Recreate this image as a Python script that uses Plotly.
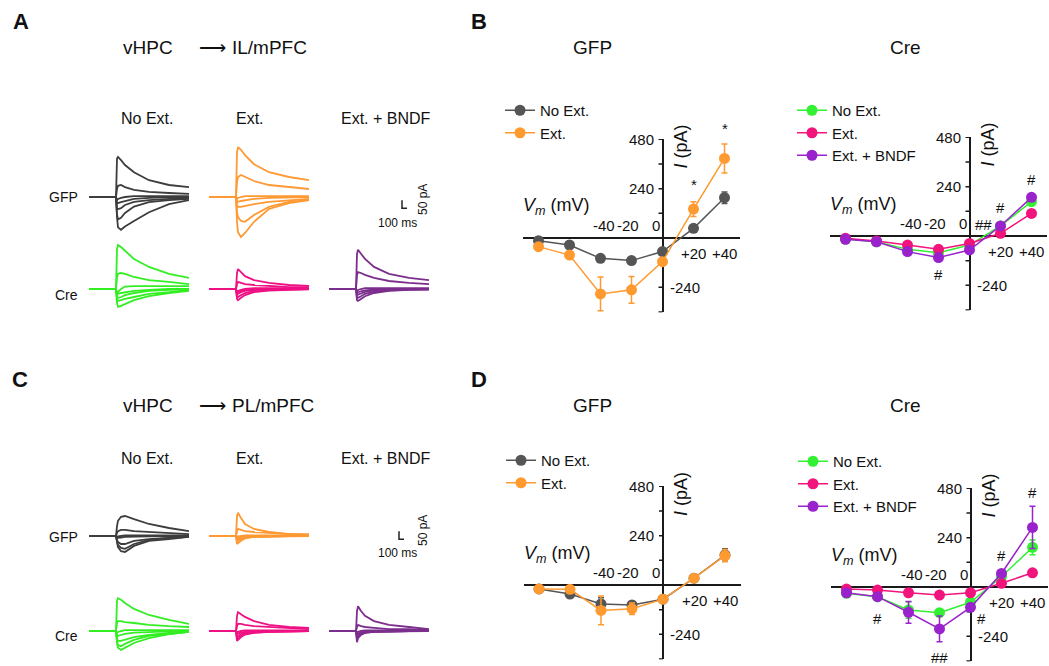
import plotly.graph_objects as go

W, H = 1049, 666
FONT = "Liberation Sans, Arial, sans-serif"

# ---------------- I-V data (pA) ----------------
V_STEPS = [-80, -60, -40, -20, 0, 20, 40]

IL_GFP_NOEXT = [-13, -34, -99, -110, -66, 47, 196]
IL_GFP_NOEXT_ERR = [8, 10, 12, 12, 10, 10, 28]
IL_GFP_EXT = [-42, -83, -272, -252, -115, 141, 387]
IL_GFP_EXT_ERR = [10, 12, 82, 65, 12, 36, 71]

IL_CRE_NOEXT = [-15, -28, -65, -81, -44, 49, 167]
IL_CRE_NOEXT_ERR = [6, 6, 8, 8, 8, 8, 12]
IL_CRE_EXT = [-11, -24, -44, -65, -36, 13, 110]
IL_CRE_EXT_ERR = [6, 6, 8, 8, 8, 8, 12]
IL_CRE_BNDF = [-16, -28, -76, -105, -68, 49, 188]
IL_CRE_BNDF_ERR = [6, 6, 10, 12, 10, 10, 15]

PL_GFP_NOEXT = [-19, -44, -92, -97, -69, 33, 146]
PL_GFP_NOEXT_ERR = [6, 8, 30, 12, 8, 8, 30]
PL_GFP_EXT = [-19, -21, -124, -116, -69, 33, 143]
PL_GFP_EXT_ERR = [6, 8, 70, 28, 8, 8, 30]

PL_CRE_NOEXT = [-31, -47, -112, -125, -74, 50, 193]
PL_CRE_NOEXT_ERR = [6, 8, 40, 15, 10, 10, 36]
PL_CRE_EXT = [-10, -15, -28, -39, -28, 18, 69]
PL_CRE_EXT_ERR = [6, 6, 6, 6, 6, 6, 8]
PL_CRE_BNDF = [-28, -47, -123, -204, -99, 66, 290]
PL_CRE_BNDF_ERR = [6, 8, 53, 63, 15, 15, 103]

Y_TICKS = [-360, -240, -120, 0, 120, 240, 360, 480]

# ---------------- example current traces (pA vs ms) ----------------
T_MS = [0, 540, 560, 580, 640, 720, 900, 1200, 1600, 2000]

IL_GFP_NOEXT_TR = [
    [0, 0, 240, 250, 230, 200, 155, 105, 75, 62],
    [0, 0, 50, 70, 75, 62, 45, 32, 25, 20],
    [0, 0, -20, -12, -6, 0, 6, 6, 6, 6],
    [0, 0, -38, -38, -32, -25, -12, -6, 0, 0],
    [0, 0, -75, -75, -70, -50, -30, -20, -12, -6],
    [0, 0, -110, -140, -130, -100, -60, -32, -20, -12],
    [0, 0, -125, -190, -205, -185, -150, -95, -45, -20],
]
IL_GFP_EXT_TR = [
    [0, 0, 280, 312, 295, 262, 205, 155, 125, 105],
    [0, 0, 95, 125, 138, 125, 100, 75, 62, 50],
    [0, 0, -12, -6, 0, 6, 6, 6, 6, 6],
    [0, 0, -30, -30, -25, -20, -12, -6, -3, 0],
    [0, 0, -50, -62, -62, -56, -44, -30, -20, -12],
    [0, 0, -95, -125, -150, -155, -112, -62, -30, -20],
    [0, 0, -155, -220, -250, -225, -155, -75, -38, -20],
]
IL_CRE_NOEXT_TR = [
    [0, 0, 250, 275, 262, 238, 188, 138, 95, 70],
    [0, 0, 75, 95, 100, 95, 75, 56, 44, 30],
    [0, 0, -40, -20, 0, 15, 18, 18, 18, 18],
    [0, 0, -25, -30, -25, -20, -12, -6, 0, 0],
    [0, 0, -50, -56, -50, -38, -25, -12, -6, 0],
    [0, 0, -62, -75, -70, -62, -50, -30, -20, -6],
    [0, 0, -88, -112, -105, -95, -70, -45, -25, -12],
]
IL_CRE_EXT_TR = [
    [0, 0, 100, 125, 105, 80, 56, 38, 25, 20],
    [0, 0, 30, 44, 38, 30, 25, 20, 12, 12],
    [0, 0, -20, -12, -6, 0, 6, 6, 6, 6],
    [0, 0, -25, -20, -12, -6, -3, 0, 0, 0],
    [0, 0, -38, -30, -20, -12, -6, -3, 0, 0],
    [0, 0, -50, -50, -38, -25, -12, -6, -3, 0],
    [0, 0, -62, -70, -55, -38, -20, -10, -5, -2],
]
IL_CRE_BNDF_TR = [
    [0, 0, 220, 245, 220, 188, 138, 95, 70, 56],
    [0, 0, 88, 105, 100, 88, 70, 50, 38, 30],
    [0, 0, -12, -6, 0, 6, 6, 6, 6, 6],
    [0, 0, -25, -20, -15, -8, -3, 0, 0, 0],
    [0, 0, -40, -35, -28, -18, -10, -5, -2, 0],
    [0, 0, -55, -55, -45, -30, -18, -8, -4, -2],
    [0, 0, -70, -75, -62, -45, -25, -12, -6, -3],
]
PL_GFP_NOEXT_TR = [
    [0, 0, 62, 95, 120, 125, 105, 75, 50, 30],
    [0, 0, 20, 30, 38, 38, 30, 25, 20, 12],
    [0, 0, -6, -3, 0, 3, 3, 3, 3, 3],
    [0, 0, -12, -12, -10, -6, -3, -2, 0, 0],
    [0, 0, -25, -38, -50, -50, -30, -20, -12, -6],
    [0, 0, -30, -56, -75, -80, -50, -25, -12, -6],
    [0, 0, -38, -70, -95, -100, -62, -30, -20, -6],
]
PL_GFP_EXT_TR = [
    [0, 0, 125, 145, 112, 75, 44, 25, 12, 12],
    [0, 0, 30, 44, 38, 30, 25, 20, 12, 6],
    [0, 0, -6, -3, 0, 3, 3, 3, 3, 3],
    [0, 0, -12, -10, -6, -3, 0, 0, 0, 0],
    [0, 0, -25, -20, -12, -6, -3, 0, 0, 0],
    [0, 0, -38, -30, -20, -10, -5, -2, 0, 0],
    [0, 0, -50, -44, -30, -15, -6, -3, 0, 0],
]
PL_CRE_NOEXT_TR = [
    [0, 0, 188, 205, 195, 175, 138, 100, 70, 44],
    [0, 0, 50, 62, 62, 56, 50, 38, 30, 25],
    [0, 0, -12, -6, 0, 6, 6, 6, 6, 6],
    [0, 0, -30, -30, -25, -18, -10, -5, -2, 0],
    [0, 0, -50, -62, -62, -56, -38, -25, -12, -6],
    [0, 0, -62, -88, -95, -80, -56, -30, -20, -6],
    [0, 0, -75, -105, -118, -105, -75, -44, -20, -6],
]
PL_CRE_EXT_TR = [
    [0, 0, 95, 118, 105, 88, 62, 38, 25, 20],
    [0, 0, 30, 44, 44, 38, 30, 25, 20, 12],
    [0, 0, -10, -5, 0, 3, 3, 3, 3, 3],
    [0, 0, -20, -15, -10, -5, -2, 0, 0, 0],
    [0, 0, -35, -30, -20, -12, -6, -3, 0, 0],
    [0, 0, -50, -45, -30, -18, -10, -5, -2, 0],
    [0, 0, -62, -55, -38, -22, -12, -6, -3, 0],
]
PL_CRE_BNDF_TR = [
    [0, 0, 125, 155, 125, 95, 62, 38, 25, 12],
    [0, 0, 25, 38, 30, 25, 20, 12, 12, 6],
    [0, 0, -10, -5, 0, 3, 3, 3, 3, 3],
    [0, 0, -25, -15, -8, -4, -2, 0, 0, 0],
    [0, 0, -40, -25, -15, -8, -4, -2, 0, 0],
    [0, 0, -55, -35, -20, -10, -5, -2, 0, 0],
    [0, 0, -70, -45, -25, -12, -6, -3, 0, 0],
]

SCALE_MS = 100
SCALE_PA = 50

# ---------------- styling ----------------
C_GRAY_TR, C_ORANGE_TR = "#3d3d3d", "#ff9933"
C_GREEN_TR, C_PINK_TR, C_PURPLE_TR = "#33ee22", "#ee1184", "#7b2e8c"
C_GRAY, C_ORANGE = "#555555", "#ff9a30"
C_GREEN, C_PINK, C_PURPLE = "#33f033", "#f0147c", "#9922cc"
AX_COLOR = "#1a1a1a"

PA_PER_PX = 6.25
MS_PER_PX = 20
MV_PX = 1.55      # px per mV
PA_PX = 0.2055    # px per pA (IV)


def fx(px):
    return px / W


def fy(py):
    return 1 - py / H


fig = go.Figure()
layout = {}
annotations = []
shapes = []
_count = [0]


def new_axes(xa, ya):
    _count[0] += 1
    k = _count[0]
    xn = "xaxis" if k == 1 else f"xaxis{k}"
    yn = "yaxis" if k == 1 else f"yaxis{k}"
    xr = "x" if k == 1 else f"x{k}"
    yr = "y" if k == 1 else f"y{k}"
    xa.setdefault("anchor", yr)
    ya.setdefault("anchor", xr)
    layout[xn] = xa
    layout[yn] = ya
    return xr, yr


def cell(x0px, base_px, ylo, yhi):
    xa = dict(domain=[fx(x0px), fx(x0px + 2000 / MS_PER_PX)], range=[0, 2000], visible=False)
    ya = dict(domain=[fy(base_px - ylo / PA_PER_PX), fy(base_px - yhi / PA_PER_PX)],
              range=[ylo, yhi], visible=False)
    return new_axes(xa, ya)


def add_traces(ax, traces, color):
    xr, yr = ax
    for tr in traces:
        fig.add_trace(go.Scatter(x=T_MS, y=tr, mode="lines", xaxis=xr, yaxis=yr,
                                 line=dict(color=color, width=1.8), showlegend=False,
                                 hoverinfo="skip"))


def add_scalebar(ax, x_anchor, y_anchor):
    xr, yr = ax
    fig.add_trace(go.Scatter(x=[x_anchor, x_anchor, x_anchor + SCALE_MS],
                             y=[y_anchor + SCALE_PA, y_anchor, y_anchor],
                             mode="lines", xaxis=xr, yaxis=yr,
                             line=dict(color="#222222", width=1.5), showlegend=False,
                             hoverinfo="skip"))


def ann_paper(text, xpx, ypx, size, **kw):
    d = dict(text=text, x=fx(xpx), y=fy(ypx), xref="paper", yref="paper",
             showarrow=False, font=dict(size=size, family=FONT, color="#111111"),
             xanchor=kw.pop("xanchor", "center"), yanchor=kw.pop("yanchor", "middle"))
    d.update(kw)
    annotations.append(d)


# ---------------- trace panels (A and C) ----------------
COL_X = [89, 209, 329]

# Panel A
a_gfp_base, a_cre_base = 197, 289
ax = cell(COL_X[0], a_gfp_base, -300, 340); add_traces(ax, IL_GFP_NOEXT_TR, C_GRAY_TR)
ax = cell(COL_X[1], a_gfp_base, -300, 340); add_traces(ax, IL_GFP_EXT_TR, C_ORANGE_TR)
ax = cell(COL_X[2], a_gfp_base, -300, 340); add_scalebar(ax, 1460, -70)
ax = cell(COL_X[0], a_cre_base, -200, 300); add_traces(ax, IL_CRE_NOEXT_TR, C_GREEN_TR)
ax = cell(COL_X[1], a_cre_base, -200, 300); add_traces(ax, IL_CRE_EXT_TR, C_PINK_TR)
ax = cell(COL_X[2], a_cre_base, -200, 300); add_traces(ax, IL_CRE_BNDF_TR, C_PURPLE_TR)

# Panel C
c_gfp_base, c_cre_base = 536, 631
ax = cell(COL_X[0], c_gfp_base, -200, 300); add_traces(ax, PL_GFP_NOEXT_TR, C_GRAY_TR)
ax = cell(COL_X[1], c_gfp_base, -200, 300); add_traces(ax, PL_GFP_EXT_TR, C_ORANGE_TR)
ax = cell(COL_X[2], c_gfp_base, -200, 300); add_scalebar(ax, 1400, -20)
ax = cell(COL_X[0], c_cre_base, -190, 300); add_traces(ax, PL_CRE_NOEXT_TR, C_GREEN_TR)
ax = cell(COL_X[1], c_cre_base, -190, 300); add_traces(ax, PL_CRE_EXT_TR, C_PINK_TR)
ax = cell(COL_X[2], c_cre_base, -190, 300); add_traces(ax, PL_CRE_BNDF_TR, C_PURPLE_TR)

# text for trace panels
for top, region in [(0, "IL/mPFC"), (358, "PL/mPFC")]:
    ann_paper("vHPC", 175, 47 + top, 19, xanchor="right")
    ann_paper("\u27f6", 212, 47 + top, 19)
    ann_paper(region, 230, 47 + top, 19, xanchor="left")
for ypx in (118, 459):
    ann_paper("No Ext.", 146.5, ypx, 16)
    ann_paper("Ext.", 250, ypx, 16)
    ann_paper("Ext. + BNDF", 385.5, ypx, 16)
ann_paper("GFP", 63, 197, 14); ann_paper("Cre", 66, 295, 14)
ann_paper("GFP", 63, 537, 14); ann_paper("Cre", 66, 636, 14)
for bar_y, ms_y in ((200, 223), (531, 553)):
    ann_paper("50 pA", 423, bar_y, 12, textangle=-90)
    ann_paper("100 ms", 397, ms_y, 12)

for letter, xpx, ypx in (("A", 21, 21), ("B", 479, 21), ("C", 20, 379), ("D", 479, 379)):
    ann_paper(f"<b>{letter}</b>", xpx, ypx, 22)

# ---------------- I-V panels (B and D) ----------------


def iv_panel(ox, oy, series, legend_name, legend_px, title, title_px):
    xa = dict(domain=[fx(ox - 90 * MV_PX), fx(ox + 50 * MV_PX)], range=[-90, 50],
              showline=False, ticks="", showticklabels=False, showgrid=False,
              zeroline=True, zerolinecolor=AX_COLOR, zerolinewidth=1.5)
    ya = dict(domain=[fy(oy + 362 * PA_PX), fy(oy - 482 * PA_PX)], range=[-362, 482],
              showline=False, ticks="", showticklabels=False, showgrid=False,
              zeroline=True, zerolinecolor=AX_COLOR, zerolinewidth=1.5)
    xr, yr = new_axes(xa, ya)
    for t in Y_TICKS:
        shapes.append(dict(type="line", xref=xr, yref=yr, xsizemode="pixel", xanchor=0,
                           x0=-4, x1=0, y0=t, y1=t, layer="below",
                           line=dict(color=AX_COLOR, width=1.5)))
    for name, vals, err, color in series:
        fig.add_trace(go.Scatter(
            x=V_STEPS, y=vals, mode="lines+markers", name=name, xaxis=xr, yaxis=yr,
            legend=legend_name, cliponaxis=False,
            line=dict(color=color, width=1.5), marker=dict(color=color, size=11),
            error_y=dict(type="data", array=err, color=color, thickness=1.5, width=3)))
    lx, ly = legend_px
    layout[legend_name] = dict(x=fx(lx), y=fy(ly), xanchor="left", yanchor="top",
                               bgcolor="rgba(0,0,0,0)", itemwidth=30,
                               font=dict(size=15, family=FONT, color="#111111"),
                               itemclick=False, itemdoubleclick=False)
    f = dict(size=15, family=FONT, color="#111111")
    base = dict(xref=xr, yref=yr, showarrow=False, font=f)
    annotations.extend([
        dict(base, text="480", x=0, y=480, xanchor="right", xshift=-7),
        dict(base, text="240", x=0, y=240, xanchor="right", xshift=-7),
        dict(base, text="-240", x=0, y=-240, xanchor="left", xshift=5),
        dict(base, text="-40", x=-40, y=0, yshift=12, xshift=3),
        dict(base, text="-20", x=-20, y=0, yshift=12, xshift=-4),
        dict(base, text="0", x=0, y=0, yshift=12, xshift=-7),
        dict(base, text="+20", x=20, y=0, yshift=-16),
        dict(base, text="+40", x=40, y=0, yshift=-16),
    ])
    ann_paper("<i>V</i><sub><i>m</i></sub> (mV)", ox - 106, oy - 31, 18)
    ann_paper("<i>I</i> (pA)", ox + 18, oy - 91, 18, textangle=-90)
    ann_paper(title, title_px[0], title_px[1], 19)
    return xr, yr


def sig(ax, text, x, y, yshift, xshift=0):
    xr, yr = ax
    annotations.append(dict(text=text, x=x, y=y, xref=xr, yref=yr, showarrow=False,
                            yshift=yshift, xshift=xshift,
                            font=dict(size=15, family=FONT, color="#111111")))


# B - GFP
axB1 = iv_panel(662.5, 238, [
    ("No Ext.", IL_GFP_NOEXT, IL_GFP_NOEXT_ERR, C_GRAY),
    ("Ext.", IL_GFP_EXT, IL_GFP_EXT_ERR, C_ORANGE),
], "legend", (500, 94), "GFP", (592, 47))
sig(axB1, "*", 20, 141, 25)
sig(axB1, "*", 40, 387, 30)

# B - Cre
axB2 = iv_panel(969.5, 236, [
    ("No Ext.", IL_CRE_NOEXT, IL_CRE_NOEXT_ERR, C_GREEN),
    ("Ext.", IL_CRE_EXT, IL_CRE_EXT_ERR, C_PINK),
    ("Ext. + BNDF", IL_CRE_BNDF, IL_CRE_BNDF_ERR, C_PURPLE),
], "legend2", (792, 94), "Cre", (905, 47))
sig(axB2, "#", 40, 188, 18)
sig(axB2, "#", 20, 49, 18)
sig(axB2, "##", 9, 0, 11)
sig(axB2, "#", -20, -105, -17)

# D - GFP
axD1 = iv_panel(663, 585, [
    ("No Ext.", PL_GFP_NOEXT, PL_GFP_NOEXT_ERR, C_GRAY),
    ("Ext.", PL_GFP_EXT, PL_GFP_EXT_ERR, C_ORANGE),
], "legend3", (501, 444), "GFP", (592, 405))

# D - Cre
axD2 = iv_panel(970.5, 587, [
    ("No Ext.", PL_CRE_NOEXT, PL_CRE_NOEXT_ERR, C_GREEN),
    ("Ext.", PL_CRE_EXT, PL_CRE_EXT_ERR, C_PINK),
    ("Ext. + BNDF", PL_CRE_BNDF, PL_CRE_BNDF_ERR, C_PURPLE),
], "legend4", (793, 445), "Cre", (905, 405))
sig(axD2, "#", -60, -47, -22)
sig(axD2, "##", -20, -204, -29)
sig(axD2, "#", 7.4, 0, -32)
sig(axD2, "#", 20, 66, 18)
sig(axD2, "#", 40, 290, 35)

fig.update_layout(
    width=W, height=H, margin=dict(l=0, r=0, t=0, b=0),
    paper_bgcolor="white", plot_bgcolor="rgba(0,0,0,0)",
    font=dict(family=FONT, color="#111111"),
    annotations=annotations, shapes=shapes, showlegend=True,
    **layout,
)

fig.write_html("out.html", config={"displayModeBar": False},
               post_script="document.body.style.margin='0px';document.body.style.padding='0px';")
